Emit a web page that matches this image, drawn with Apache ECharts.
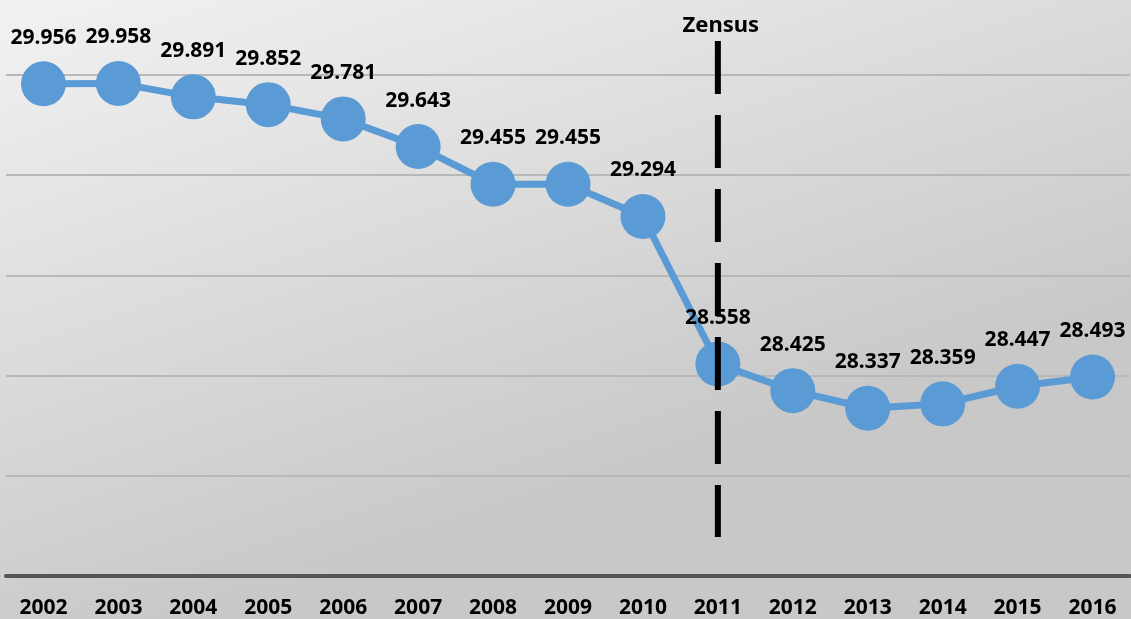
<!DOCTYPE html>
<html>
<head>
    <meta charset="utf-8">
    <title>Zensus</title>
    <script src="https://cdn.jsdelivr.net/npm/echarts@6/dist/echarts.min.js"></script>
    <style>
        html, body { margin: 0; padding: 0; }
        #chart { width: 1131px; height: 619px; }
    </style>
</head>
<body>
<div id="chart"></div>
<script>
    // data
    var years = ['2002', '2003', '2004', '2005', '2006', '2007', '2008', '2009',
                 '2010', '2011', '2012', '2013', '2014', '2015', '2016'];
    var values = [29.956, 29.958, 29.891, 29.852, 29.781, 29.643, 29.455, 29.455,
                  29.294, 28.558, 28.425, 28.337, 28.359, 28.447, 28.493];
    var censusYear = '2011';
    var censusLabel = 'Zensus';
    var censusSpan = [27.694, 30.17];

    var chart = echarts.init(document.getElementById('chart'));
    var fontFamily = '"Noto Sans", "Open Sans", sans-serif';

    var option = {
        animation: false,
        backgroundColor: {
            type: 'linear', x: 0, y: 0, x2: 0.18, y2: 1,
            colorStops: [
                {offset: 0, color: '#f2f2f2'},
                {offset: 1, color: '#c8c8c8'}
            ]
        },
        grid: {
            left: 6,
            right: 1,
            top: 75,
            bottom: 42
        },
        xAxis: {
            type: 'category',
            boundaryGap: true,
            data: years,
            axisLine: {lineStyle: {color: '#555555', width: 4}},
            axisTick: {show: false},
            axisLabel: {
                margin: 22,
                color: '#000',
                fontWeight: 'bold',
                fontSize: 21,
                fontFamily: fontFamily
            }
        },
        yAxis: {
            type: 'value',
            min: 27.5,
            max: 30,
            interval: 0.5,
            axisLine: {show: false},
            axisTick: {show: false},
            axisLabel: {show: false},
            splitLine: {lineStyle: {color: '#b8b8b8', width: 2}}
        },
        series: [{
            type: 'line',
            data: values,
            clip: false,
            symbol: 'circle',
            symbolSize: 45,
            lineStyle: {color: '#5b9bd5', width: 7},
            itemStyle: {color: '#5b9bd5'},
            label: {
                show: true,
                position: 'top',
                distance: 13,
                color: '#000',
                fontWeight: 'bold',
                fontSize: 21,
                fontFamily: fontFamily,
                formatter: function (p) { return p.value.toFixed(3); }
            }
        }, {
            // census marker: dashed vertical line with title above
            type: 'custom',
            clip: false,
            silent: true,
            z: 5,
            data: [[censusYear, censusSpan[0], censusSpan[1]]],
            renderItem: function (params, api) {
                var p0 = api.coord([api.value(0), api.value(1)]);
                var p1 = api.coord([api.value(0), api.value(2)]);
                return {
                    type: 'group',
                    children: [{
                        type: 'line',
                        shape: {x1: p0[0], y1: p1[1], x2: p0[0], y2: p0[1]},
                        style: {stroke: '#000', lineWidth: 6, lineDash: [53, 21]}
                    }, {
                        type: 'text',
                        x: p0[0] + 3,
                        y: p1[1] - 4,
                        style: {
                            text: censusLabel,
                            fill: '#000',
                            font: 'bold 22px ' + fontFamily,
                            textAlign: 'center',
                            textVerticalAlign: 'bottom'
                        }
                    }]
                };
            }
        }]
    };
    chart.setOption(option);
</script>
</body>
</html>
